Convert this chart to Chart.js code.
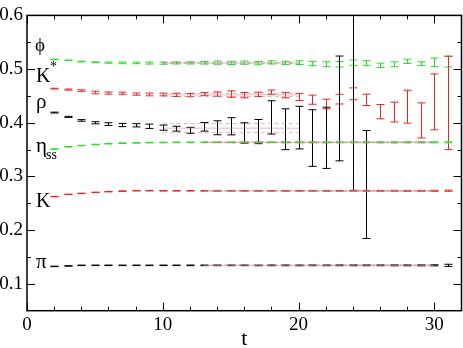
<!DOCTYPE html>
<html>
<head>
<meta charset="utf-8">
<script src="https://cdn.jsdelivr.net/npm/chart.js@4.4.1/dist/chart.umd.min.js"></script>
<style>
    html, body { margin: 0; padding: 0; background: #fff; }
</style>
</head>
<body>
<canvas id="Chart" width="463" height="348"></canvas>
<script>
// time slices
const T = [2, 3, 4, 5, 6, 7, 8, 9, 10, 11, 12, 13, 14, 15, 16, 17, 18, 19, 20, 21, 22, 23, 24, 25, 26, 27, 28, 29, 30, 31];

// effective masses and errors, one pair of arrays per meson (null = no point)
const phi    = [0.518, 0.5164, 0.514, 0.5127, 0.512, 0.5115, 0.5115, 0.5112, 0.511, 0.5115, 0.5115, 0.5118, 0.512, 0.5115, 0.512, 0.511, 0.5125, 0.5115, 0.512, 0.5104, 0.509, 0.509, 0.512, 0.511, 0.507, 0.509, 0.5145, 0.510, 0.5125, 0.514];
const phiErr = [0.0005, 0.0005, 0.0007, 0.0008, 0.001, 0.0015, 0.0015, 0.0018, 0.002, 0.002, 0.002, 0.0025, 0.003, 0.003, 0.003, 0.003, 0.003, 0.003, 0.0035, 0.004, 0.0045, 0.005, 0.005, 0.0045, 0.004, 0.0045, 0.004, 0.0035, 0.008, 0.01];

const kstar    = [0.4636, 0.4618, 0.46, 0.4564, 0.4553, 0.455, 0.4534, 0.4527, 0.4527, 0.452, 0.4515, 0.4535, 0.4535, 0.4535, 0.4515, 0.453, 0.457, 0.4515, 0.448, 0.443, 0.435, 0.444, 0.454, 0.4427, 0.4207, 0.420, 0.430, 0.4044, 0.439, 0.437];
const kstarErr = [0.0007, 0.001, 0.0015, 0.0025, 0.002, 0.002, 0.002, 0.0025, 0.0025, 0.003, 0.003, 0.003, 0.004, 0.006, 0.005, 0.004, 0.004, 0.005, 0.0067, 0.0085, 0.009, 0.009, 0.011, 0.0106, 0.0133, 0.0185, 0.0306, 0.0327, 0.052, 0.087];

const rho    = [0.419, 0.411, 0.4044, 0.400, 0.3976, 0.3958, 0.3953, 0.3935, 0.391, 0.389, 0.386, 0.3925, 0.3907, 0.3935, 0.381, 0.3836, 0.41, 0.388, 0.391, 0.3716, 0.372, 0.4267, 0.46, 0.285, null, null, null, null, null, null];
const rhoErr = [0.0008, 0.001, 0.0015, 0.002, 0.0025, 0.003, 0.003, 0.004, 0.0048, 0.0045, 0.0055, 0.008, 0.013, 0.016, 0.019, 0.0225, 0.031, 0.038, 0.0397, 0.0527, 0.057, 0.0976, 0.186, 0.1006, null, null, null, null, null, null];

const etass    = [0.351, 0.3553, 0.3576, 0.3595, 0.361, 0.362, 0.3625, 0.363, 0.3633, 0.3635, 0.3636, 0.3636, 0.3637, 0.3636, 0.3636, 0.3635, 0.3636, 0.3637, 0.3636, 0.3636, 0.3635, 0.3636, 0.3637, 0.3636, 0.3636, 0.3635, 0.3636, 0.3636, 0.3636, 0.3636];
const etassErr = [0.0004, 0.0004, 0.0004, 0.0005, 0.0005, 0.0005, 0.0005, 0.0005, 0.0006, 0.0006, 0.0006, 0.0006, 0.0006, 0.0007, 0.0007, 0.0007, 0.0007, 0.0008, 0.0008, 0.0008, 0.0008, 0.0009, 0.0009, 0.0009, 0.001, 0.001, 0.001, 0.001, 0.001, 0.001];

const kaon    = [0.2625, 0.2667, 0.2685, 0.2704, 0.2716, 0.2727, 0.2735, 0.2735, 0.2733, 0.2733, 0.2733, 0.2732, 0.2732, 0.2733, 0.2732, 0.2732, 0.2733, 0.2732, 0.2732, 0.2733, 0.2732, 0.2732, 0.2733, 0.2732, 0.2732, 0.2733, 0.2732, 0.2732, 0.2733, 0.2735];
const kaonErr = [0.0004, 0.0004, 0.0004, 0.0004, 0.0004, 0.0005, 0.0005, 0.0005, 0.0005, 0.0005, 0.0005, 0.0005, 0.0005, 0.0006, 0.0006, 0.0006, 0.0006, 0.0006, 0.0006, 0.0007, 0.0007, 0.0007, 0.0007, 0.0007, 0.0008, 0.0008, 0.0008, 0.0008, 0.0009, 0.001];

const pion    = [0.1325, 0.1334, 0.1345, 0.1345, 0.1345, 0.1345, 0.1345, 0.1345, 0.1345, 0.1345, 0.1345, 0.1345, 0.1345, 0.1345, 0.1345, 0.1344, 0.1345, 0.1345, 0.1344, 0.1345, 0.1345, 0.1345, 0.1345, 0.1345, 0.1345, 0.1345, 0.1345, 0.1345, 0.1345, 0.1345];
const pionErr = [0.0005, 0.0005, 0.0005, 0.0005, 0.0005, 0.0005, 0.0005, 0.0005, 0.0005, 0.0005, 0.0006, 0.0006, 0.0006, 0.0006, 0.0006, 0.0006, 0.0007, 0.0007, 0.0007, 0.0007, 0.0007, 0.0008, 0.0008, 0.0008, 0.0008, 0.0009, 0.0009, 0.001, 0.001, 0.002];

// plateau fits: window and result
const fitFrom  = [10, 10, 10, 13, 13, 13];
const fitTo    = [20, 20, 20, 30, 30, 30];
const fitValue = [0.5115, 0.452, 0.390, 0.3636, 0.2732, 0.1345];
const fitError = [0.0013, 0.003, 0.0085, 0.001, 0.001, 0.001];

// axes
const xTicks = [0, 10, 20, 30];
const xMinor = [2, 4, 6, 8, 12, 14, 16, 18, 22, 24, 26, 28];
const yTicks = [0.1, 0.2, 0.3, 0.4, 0.5, 0.6];
const yMinor = [0.15, 0.25, 0.35, 0.45, 0.55];

const GREEN = '#1ee21e';
const RED = '#f02020';
const BLACK = '#000';
const BAND = 'rgba(190, 130, 130, 0.55)';

function Series(values, errors, color) {
    return {
        type: 'scatter',
        data: T.map((t, i) => ({ x: t, y: values[i] })).filter(p => p.y !== null),
        errors: errors.filter(e => e !== null),
        barColor: color,
        pointRadius: 0,
        showLine: false
    };
}

function FitLines(i) {
    const line = (v, dash) => ({
        type: 'line',
        data: [{ x: fitFrom[i], y: v }, { x: fitTo[i], y: v }],
        borderColor: BAND,
        borderWidth: 1,
        borderDash: dash,
        pointRadius: 0,
        fill: false
    });
    return [
        line(fitValue[i], []),
        line(fitValue[i] + fitError[i], [4, 3]),
        line(fitValue[i] - fitError[i], [4, 3])
    ];
}

const errorBars = {
    id: 'errorBars',
    beforeDatasetsDraw(chart) {
        const { ctx, chartArea: a, scales: { x, y } } = chart;
        ctx.save();
        ctx.beginPath();
        ctx.rect(a.left, a.top, a.right - a.left, a.bottom - a.top);
        ctx.clip();
        ctx.lineWidth = 1;
        chart.data.datasets.forEach(ds => {
            if (!ds.errors) return;
            ctx.strokeStyle = ds.barColor;
            ds.data.forEach((p, i) => {
                const px = Math.round(x.getPixelForValue(p.x)) + 0.5;
                const top = y.getPixelForValue(p.y + ds.errors[i]);
                const bot = y.getPixelForValue(p.y - ds.errors[i]);
                ctx.beginPath();
                ctx.moveTo(px, top); ctx.lineTo(px, bot);
                ctx.moveTo(px - 4, top); ctx.lineTo(px + 4, top);
                ctx.moveTo(px - 4, bot); ctx.lineTo(px + 4, bot);
                ctx.stroke();
            });
        });
        ctx.restore();
    }
};

const frame = {
    id: 'frame',
    afterDraw(chart) {
        const { ctx, chartArea: a, scales: { x, y } } = chart;
        ctx.save();
        ctx.strokeStyle = BLACK;
        ctx.lineWidth = 1;
        const seg = (x1, y1, x2, y2) => { ctx.beginPath(); ctx.moveTo(x1, y1); ctx.lineTo(x2, y2); ctx.stroke(); };
        const xt = (v, len) => { const p = Math.round(x.getPixelForValue(v)) + 0.5; seg(p, a.bottom, p, a.bottom - len); seg(p, a.top, p, a.top + len); };
        const yt = (v, len) => { const p = Math.round(y.getPixelForValue(v)) + 0.5; seg(a.left, p, a.left + len, p); seg(a.right, p, a.right - len, p); };
        xTicks.forEach(v => xt(v, 8));
        xMinor.forEach(v => xt(v, 4));
        yTicks.forEach(v => yt(v, 8));
        yMinor.forEach(v => yt(v, 4));
        ctx.lineWidth = 1.5;
        ctx.strokeRect(a.left, a.top, a.right - a.left, a.bottom - a.top);

        // meson names
        ctx.fillStyle = BLACK;
        ctx.textBaseline = 'alphabetic';
        ctx.textAlign = 'left';
        ctx.font = '19px "Liberation Serif"';
        ctx.fillText('ϕ', 35, 51);
        ctx.font = '20px "Liberation Serif"';
        ctx.fillText('K', 36, 82);
        ctx.fillText('K', 36, 207);
        ctx.font = '21px "Liberation Serif"';
        ctx.fillText('ρ', 36, 108);
        ctx.fillText('η', 36, 152);
        ctx.fillText('π', 36, 268);
        ctx.font = '14px "Liberation Serif"';
        ctx.fillText('*', 50, 71);
        ctx.fillText('ss', 46, 159);
        ctx.restore();
    }
};

const datasets = [
    Series(phi, phiErr, GREEN),
    Series(kstar, kstarErr, RED),
    Series(rho, rhoErr, BLACK),
    Series(etass, etassErr, GREEN),
    Series(kaon, kaonErr, RED),
    Series(pion, pionErr, BLACK)
];
fitValue.forEach((v, i) => datasets.push(...FitLines(i)));

const tickFont = { family: '"Liberation Serif", serif', size: 19 };

new Chart(document.getElementById('Chart').getContext('2d'), {
    type: 'scatter',
    data: { datasets: datasets },
    options: {
        responsive: false,
        animation: false,
        devicePixelRatio: 1,
        layout: { padding: { left: 0, right: 1.5, top: 7, bottom: 0 } },
        plugins: { legend: { display: false }, tooltip: { enabled: false } },
        scales: {
            x: {
                type: 'linear', min: 0, max: 32,
                afterBuildTicks: s => { s.ticks = xTicks.map(v => ({ value: v })); },
                afterFit: s => { s.height = 37.3; },
                grid: { display: false, drawTicks: false },
                border: { display: false },
                ticks: { color: BLACK, font: tickFont, padding: 3, maxRotation: 0 },
                title: { display: true, text: 't', color: BLACK, font: { family: '"Liberation Serif", serif', size: 22, lineHeight: 0.76 }, padding: 0 }
            },
            y: {
                type: 'linear', min: 0.05, max: 0.6,
                afterBuildTicks: s => { s.ticks = yTicks.map(v => ({ value: v })); },
                afterFit: s => { s.width = 27; },
                grid: { display: false, drawTicks: false },
                border: { display: false },
                ticks: { color: BLACK, font: tickFont, padding: 4 }
            }
        }
    },
    plugins: [errorBars, frame]
});
</script>
</body>
</html>
